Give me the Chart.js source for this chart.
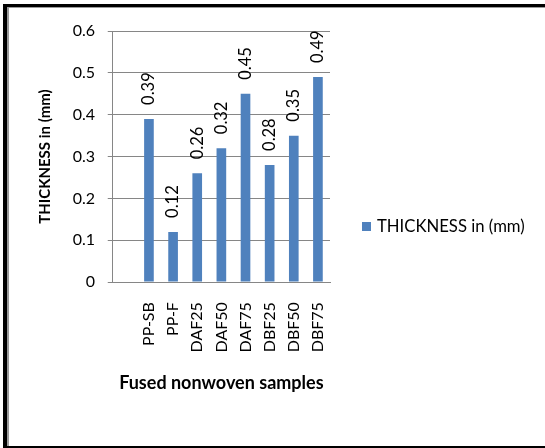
<!DOCTYPE html>
<html>
<head>
<meta charset="utf-8">
<script src="https://cdn.jsdelivr.net/npm/chart.js@4"></script>
<style>
  html, body { margin: 0; padding: 0; background: #fff; }
  #wrap { position: relative; width: 545px; height: 448px; overflow: hidden; }
  #frame {
    position: absolute; left: 3px; top: 4px; right: 0; bottom: 0;
    border-top: 3px solid #000; border-left: 4px solid #000; border-bottom: 2px solid #000;
    pointer-events: none;
  }
  #frame::before {
    content: ""; position: absolute; left: 0; top: 0; right: 0; bottom: 0;
    border-top: 1px solid #9a9a9a; border-left: 2px solid #9a9a9a;
  }
  canvas { position: absolute; left: 0; top: 0; }
</style>
</head>
<body>
<div id="wrap">
  <canvas id="c" width="545" height="448"></canvas>
  <div id="frame"></div>
</div>
<script>
// Sample names (the leading blank slot leaves an empty column next to the axis)
const categories = ['', 'PP-SB', 'PP-F', 'DAF25', 'DAF50', 'DAF75', 'DBF25', 'DBF50', 'DBF75'];
// Measured thickness, mm
const thickness = [null, 0.39, 0.12, 0.26, 0.32, 0.45, 0.28, 0.35, 0.49];
const seriesName = 'THICKNESS in (mm)';
const yTickLabels = ['0', '0.1', '0.2', '0.3', '0.4', '0.5', '0.6'];

const FONT = 'Lato, "Open Sans", sans-serif';
const GRID = '#868686';
const BAR = '#4F81BD';

// Rotated value labels above each bar
const valueLabels = {
  id: 'valueLabels',
  afterDatasetsDraw(chart) {
    const ctx = chart.ctx;
    const meta = chart.getDatasetMeta(0);
    const values = chart.data.datasets[0].data;
    ctx.save();
    ctx.font = '16.5px ' + FONT;
    ctx.fillStyle = '#000';
    ctx.textAlign = 'left';
    ctx.textBaseline = 'middle';
    meta.data.forEach((bar, i) => {
      const v = values[i];
      if (v === null || v === undefined) return;
      ctx.save();
      ctx.translate(bar.x, bar.y - 14);
      ctx.rotate(-Math.PI / 2);
      ctx.fillText(String(v), 0, 0);
      ctx.restore();
    });
    ctx.restore();
  }
};

// Single-entry legend to the right of the plot, built from the dataset
const sideLegend = {
  id: 'sideLegend',
  afterDraw(chart) {
    const ctx = chart.ctx;
    const ds = chart.data.datasets[0];
    const x = chart.chartArea.right + 32;
    const yMid = chart.height / 2 + 2.5;
    ctx.save();
    ctx.fillStyle = ds.backgroundColor;
    ctx.fillRect(x, yMid - 4.5, 9, 9);
    ctx.fillStyle = '#000';
    ctx.font = '16.7px ' + FONT;
    ctx.textAlign = 'left';
    ctx.textBaseline = 'middle';
    ctx.fillText(ds.label, x + 15, yMid);
    ctx.restore();
  }
};

new Chart(document.getElementById('c'), {
  type: 'bar',
  data: {
    labels: categories,
    datasets: [{
      label: seriesName,
      data: thickness,
      backgroundColor: BAR,
      borderWidth: 0,
      barPercentage: 0.4,
      categoryPercentage: 1.0
    }]
  },
  options: {
    responsive: false,
    animation: false,
    events: [],
    layout: { padding: { top: 31, right: 215, bottom: 16, left: 8 } },
    plugins: {
      tooltip: { enabled: false },
      legend: { display: false }
    },
    scales: {
      x: {
        grid: { display: false, drawTicks: false },
        border: { display: true, color: GRID, width: 1 },
        ticks: {
          autoSkip: false, maxRotation: 90, minRotation: 90, padding: 20,
          color: '#000', font: { family: FONT, size: 16 }
        },
        title: {
          display: true, text: 'Fused nonwoven samples', color: '#000',
          font: { family: FONT, size: 18, weight: 'bold' },
          padding: { top: 0, bottom: 38 }
        }
      },
      y: {
        min: 0, max: 0.6,
        grid: { color: GRID, tickLength: 5, drawTicks: true },
        border: { display: true, color: GRID, width: 1 },
        ticks: {
          stepSize: 0.1, padding: 12.7, color: '#000',
          font: { family: FONT, size: 16 },
          callback: (v, i) => yTickLabels[i]
        },
        title: {
          display: true, text: seriesName, color: '#000',
          font: { family: FONT, size: 15, weight: 'bold' },
          padding: { top: 28, bottom: 6 }
        }
      }
    }
  },
  plugins: [valueLabels, sideLegend]
});
</script>
</body>
</html>
